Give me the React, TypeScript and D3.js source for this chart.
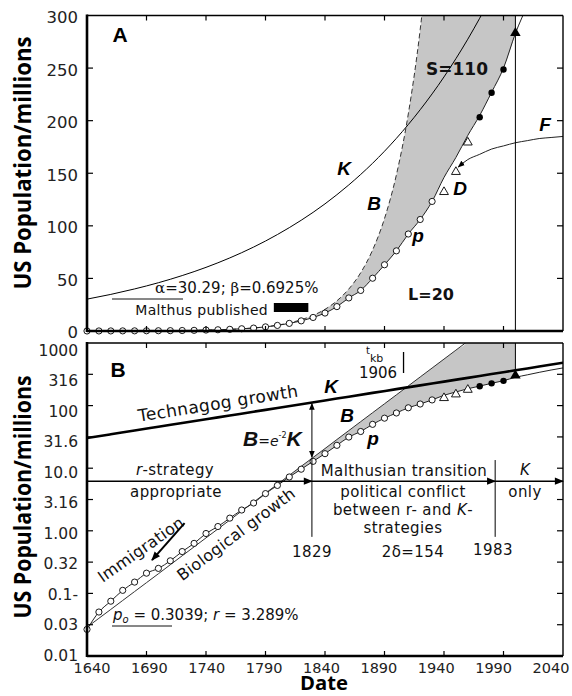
import React from "react";
import * as d3 from "d3";

// census points (millions)
const censusYears = [1640, 1650, 1660, 1670, 1680, 1690, 1700, 1710, 1720, 1730, 1740, 1750, 1760, 1770, 1780, 1790, 1800, 1810, 1820, 1830, 1840, 1850, 1860, 1870, 1880, 1890, 1900, 1910, 1920, 1930];
const censusPop = [0.0266, 0.0504, 0.0751, 0.1119, 0.1515, 0.2104, 0.2509, 0.3317, 0.4662, 0.6294, 0.9056, 1.1708, 1.5936, 2.1481, 2.7804, 3.929, 5.308, 7.24, 9.638, 12.866, 17.069, 23.192, 31.443, 38.558, 50.189, 62.98, 76.212, 92.228, 106.022, 123.203];
const depressionYears = [1940, 1950, 1960];
const depressionPop = [132.2, 151.3, 179.3];
const recentYears = [1970, 1980, 1990];
const recentPop = [203.3, 226.5, 248.7];
const lastYears = [2000];
const lastPop = [281.4];

// fitted p curve
const pYears = [1640, 1650, 1660, 1670, 1680, 1690, 1700, 1710, 1720, 1730, 1740, 1750, 1760, 1770, 1780, 1790, 1800, 1810, 1820, 1830, 1840, 1850, 1860, 1870, 1880, 1890, 1900, 1910, 1920, 1930, 1940, 1950, 1960, 1970, 1980, 1990, 2000, 2010, 2020, 2030, 2040];
const pValues = [0.0266, 0.0504, 0.0751, 0.1119, 0.1515, 0.2104, 0.2509, 0.3317, 0.4662, 0.6294, 0.9056, 1.1708, 1.5936, 2.1481, 2.7804, 3.929, 5.308, 7.24, 9.638, 12.866, 17.069, 23.192, 31.443, 38.558, 50.189, 62.98, 76.212, 92.228, 106.022, 123.203, 146, 165, 186, 205, 227, 250, 283, 310, 340, 370, 400];

// biological growth B
const bYears = [1640, 1650, 1660, 1670, 1680, 1690, 1700, 1710, 1720, 1730, 1740, 1750, 1760, 1770, 1780, 1790, 1800, 1810, 1820, 1830, 1840, 1850, 1860, 1870, 1880, 1890, 1900, 1910, 1920, 1930, 1940, 1950, 1960];
const bValues = [0.0288, 0.04, 0.0555, 0.0771, 0.107, 0.1485, 0.206, 0.287, 0.399, 0.554, 0.77, 1.071, 1.485, 2.07, 2.87, 3.99, 5.54, 7.7, 10.71, 14.85, 20.6, 28.7, 39.9, 55.4, 77.0, 106.9, 148.5, 206.4, 286.7, 398.3, 553.5, 769, 1068];

// technagog growth K
const kYears = [1640, 1660, 1680, 1700, 1720, 1740, 1760, 1780, 1800, 1820, 1840, 1860, 1880, 1900, 1920, 1940, 1960, 1980, 2000, 2020, 2040];
const kValues = [30.3, 34.8, 40.0, 45.9, 52.7, 60.5, 69.5, 79.8, 91.7, 105.3, 120.9, 138.9, 159.5, 183.2, 210.4, 241.6, 277.5, 318.7, 366.0, 420.4, 482.8];

// F curve
const fYears = [1952, 1960, 1970, 1980, 1990, 2000, 2010, 2020, 2030, 2040];
const fValues = [156, 163, 168, 173, 176, 179, 181, 183, 184, 185];

const yearTicks = [1640, 1690, 1740, 1790, 1840, 1890, 1940, 1990, 2040];
const linTicks = [0, 50, 100, 150, 200, 250, 300];
const logTicks = [0.01, 0.0316, 0.1, 0.316, 1, 3.16, 10, 31.6, 100, 316, 1000];
const logTickLabels = ["0.01", "0.03", "0.1-", "0.32", "1.00", "3.16", "10.0", "31.6", "100", "316", "1000"];

const W = 572;
const H = 696;
const FONT = "DejaVu Sans";
const BI = "Liberation Sans";

const x = d3.scaleLinear().domain([1640, 2040]).range([87, 563]);
const xLab = d3.scaleLinear().domain([1640, 2040]).range([92, 551]);
const yLin = d3.scaleLinear().domain([0, 300]).range([331, 15.5]);
const yLog = d3.scaleLog().domain([0.01, 1000]).range([656, 343]);
const yLogLab = d3.scaleLog().domain([0.01, 1000]).range([655, 350]);

const zip = (a: number[], b: number[]) => a.map((v, i) => [v, b[i]] as [number, number]);
const pAt = (yr: number) => pValues[pYears.indexOf(yr)];
const bAt = (yr: number) => {
  const i = bYears.indexOf(yr);
  return i >= 0 ? bValues[i] : 1e7;
};
const shadeYears = pYears.filter((yr) => yr >= 1790 && yr <= 2000);

function Panel({ y, log }: { y: any; log: boolean }) {
  const top = y.range()[1];
  const bottom = y.range()[0];
  const id = log ? "clipB" : "clipA";
  const line = (curve: any) =>
    d3
      .line<[number, number]>()
      .x((d) => x(d[0]))
      .y((d) => y(d[1]))
      .curve(curve);
  const area = d3
    .area<number>()
    .x((yr) => x(yr))
    .y0((yr) => y(pAt(yr)))
    .y1((yr) => y(bAt(yr)))
    .curve(d3.curveMonotoneX);
  const tri = d3.symbol().type(d3.symbolTriangle).size(34)();
  const innerTicks = log ? logTicks.slice(1, -1) : linTicks.slice(1, -1);
  return (
    <g>
      <defs>
        <clipPath id={id}>
          <rect x={87} y={top} width={476} height={bottom - top} />
        </clipPath>
      </defs>
      <g clipPath={`url(#${id})`}>
        <path d={area(shadeYears) || ""} fill="#c6c6c6" />
        <path
          d={line(log ? d3.curveLinear : d3.curveMonotoneX)(zip(bYears, bValues)) || ""}
          fill="none"
          stroke="#333"
          strokeWidth={1}
          strokeDasharray={log ? undefined : "5,3"}
        />
        <path
          d={line(d3.curveMonotoneX)(zip(kYears, kValues)) || ""}
          fill="none"
          stroke="#000"
          strokeWidth={log ? 2.6 : 1}
        />
        <path d={line(d3.curveMonotoneX)(zip(pYears, pValues)) || ""} fill="none" stroke="#222" strokeWidth={1} />
        {!log && (
          <path
            d={line(d3.curveMonotoneX)(zip(fYears, fValues)) || ""}
            fill="none"
            stroke="#222"
            strokeWidth={1}
            markerStart="url(#arrowHead)"
          />
        )}
      </g>
      {/* vertical line at 2000 */}
      <line x1={x(2000)} x2={x(2000)} y1={top} y2={log ? y(lastPop[0]) : bottom} stroke="#000" strokeWidth={1} />
      {zip(censusYears, censusPop).map(([yr, v]) => (
        <circle key={yr} cx={x(yr)} cy={y(v)} r={3.1} fill="#fff" stroke="#000" strokeWidth={0.9} />
      ))}
      {zip(depressionYears, depressionPop).map(([yr, v]) => (
        <path key={yr} d={tri || ""} transform={`translate(${x(yr)},${y(v)})`} fill="#fff" stroke="#000" strokeWidth={0.9} />
      ))}
      {zip(recentYears, recentPop).map(([yr, v]) => (
        <circle key={yr} cx={x(yr)} cy={y(v)} r={3.2} fill="#000" />
      ))}
      {zip(lastYears, lastPop).map(([yr, v]) => (
        <path key={yr} d={d3.symbol().type(d3.symbolTriangle).size(48)() || ""} transform={`translate(${x(yr)},${y(v) - 2})`} fill="#000" />
      ))}
      {/* ticks */}
      {yearTicks.slice(1, -1).map((yr) => (
        <g key={yr} stroke="#000" strokeWidth={1.2}>
          <line x1={x(yr)} x2={x(yr)} y1={top} y2={top + 5} />
          <line x1={x(yr)} x2={x(yr)} y1={bottom} y2={bottom - 5} />
        </g>
      ))}
      {innerTicks.map((v) => (
        <g key={v} stroke="#000" strokeWidth={1.2}>
          <line x1={87} x2={93} y1={y(v)} y2={y(v)} />
          <line x1={563} x2={557} y1={y(v)} y2={y(v)} />
        </g>
      ))}
      {/* frame */}
      <line x1={87} x2={563} y1={top} y2={top} stroke="#000" strokeWidth={1.4} />
      <line x1={563} x2={563} y1={top} y2={bottom} stroke="#000" strokeWidth={1.4} />
      <line x1={87} x2={563} y1={bottom} y2={bottom} stroke="#000" strokeWidth={2.4} />
      <line x1={87} x2={87} y1={top - 1} y2={bottom + 1} stroke="#000" strokeWidth={2.6} />
      {/* tick labels */}
      {log
        ? logTicks.map((v, i) => (
            <text key={v} x={78} y={yLogLab(v)} dy="0.36em" textAnchor="end" fontSize={15.5} fill="#222">
              {logTickLabels[i]}
            </text>
          ))
        : linTicks.map((v) => (
            <text key={v} x={78} y={yLin(v) + 1.5} dy="0.36em" textAnchor="end" fontSize={16.5} fill="#222">
              {v}
            </text>
          ))}
    </g>
  );
}

export default function App() {
  const kAngle =
    (Math.atan2(yLog(kValues[kValues.length - 1]) - yLog(kValues[0]), x(2040) - x(1640)) * 180) / Math.PI;
  const bAngle =
    (Math.atan2(yLog(bValues[bValues.length - 1]) - yLog(bValues[0]), x(1960) - x(1640)) * 180) / Math.PI;
  const divY = yLog(6.2);
  return (
    <svg width={W} height={H} style={{ position: "absolute", left: 0, top: 0, background: "#fff" }} fontFamily={FONT}>
      <defs>
        <marker id="arrowHead" viewBox="0 0 10 10" refX="9" refY="5" markerWidth="7" markerHeight="7" orient="auto-start-reverse" markerUnits="userSpaceOnUse">
          <path d="M0,1 L10,5 L0,9 z" fill="#000" />
        </marker>
        <marker id="arrowBig" viewBox="0 0 10 10" refX="9" refY="5" markerWidth="11" markerHeight="9" orient="auto-start-reverse" markerUnits="userSpaceOnUse">
          <path d="M0,1 L10,5 L0,9 z" fill="#000" />
        </marker>
      </defs>
      <rect width={W} height={H} fill="#fff" />

      {/* ---------- panel A ---------- */}
      <Panel y={yLin} log={false} />
      <text x={120} y={42} textAnchor="middle" fontFamily={BI} fontWeight="bold" fontSize={21}>A</text>
      <g fontFamily={BI} fontWeight="bold" fontStyle="italic" fontSize={19}>
        <text x={344} y={175} textAnchor="middle">K</text>
        <text x={374} y={210} textAnchor="middle">B</text>
        <text x={418} y={242} textAnchor="middle">p</text>
        <text x={460} y={195} textAnchor="middle">D</text>
        <text x={545} y={131} textAnchor="middle">F</text>
      </g>
      <text x={457} y={75} textAnchor="middle" fontWeight="bold" fontSize={17} fill="#111">S=110</text>
      <text x={431} y={300} textAnchor="middle" fontWeight="bold" fontSize={16} fill="#111">L=20</text>
      <text x={155} y={293} fontSize={15} fill="#111">
        <tspan fontFamily="DejaVu Serif">α</tspan>=30.29; <tspan fontFamily="DejaVu Serif">β</tspan>=0.6925%
      </text>
      <line x1={112} x2={183} y1={299} y2={299} stroke="#111" strokeWidth={1} />
      <text x={268} y={315} textAnchor="end" fontSize={14} letterSpacing={0.3} fill="#111">Malthus published</text>
      <rect x={x(1797)} y={303} width={x(1826) - x(1797)} height={9} fill="#000" />
      <text transform="translate(31,163) rotate(-90)" textAnchor="middle" fontFamily="Open Sans" fontWeight="bold" fontSize={23} textLength={253} lengthAdjust="spacingAndGlyphs">
        US Population/millions
      </text>

      {/* ---------- panel B ---------- */}
      <Panel y={yLog} log={true} />
      <text x={118} y={377} textAnchor="middle" fontFamily={BI} fontWeight="bold" fontSize={21}>B</text>
      <text transform="translate(31,497) rotate(-90)" textAnchor="middle" fontFamily="Open Sans" fontWeight="bold" fontSize={23} textLength={243} lengthAdjust="spacingAndGlyphs">
        US Population/millions
      </text>
      {/* technagog label */}
      <text transform={`translate(${x(1752)},${yLog(65.6)}) rotate(${kAngle}) translate(0,-8)`} textAnchor="middle" fontSize={17} letterSpacing={0.4} fill="#111">
        Technagog growth
      </text>
      <text transform={`translate(${x(1758)},${yLog(1.35)}) rotate(${bAngle}) translate(0,20)`} textAnchor="middle" fontSize={16} letterSpacing={0.3} fill="#111">
        Biological growth
      </text>
      <text transform="translate(144,554) rotate(-35)" textAnchor="middle" fontSize={16} letterSpacing={0.3} fill="#111">
        Immigration
      </text>
      <line x1={x(1722)} y1={yLog(1.33)} x2={x(1694.6)} y2={yLog(0.341)} stroke="#000" strokeWidth={2} markerEnd="url(#arrowBig)" />
      <g fontFamily={BI} fontWeight="bold" fontStyle="italic" fontSize={19}>
        <text x={331} y={393} textAnchor="middle">K</text>
        <text x={347} y={422} textAnchor="middle">B</text>
        <text x={373} y={445} textAnchor="middle">p</text>
      </g>
      <text x={243} y={446} fill="#111">
        <tspan fontFamily={BI} fontWeight="bold" fontStyle="italic" fontSize={21}>B</tspan>
        <tspan fontStyle="italic" fontSize={14}>=e</tspan>
        <tspan fontSize={8} dy={-8}>-2</tspan>
        <tspan fontFamily={BI} fontWeight="bold" fontStyle="italic" fontSize={21} dy={8}>K</tspan>
      </text>
      {/* B = e^-2 K arrow at 1829 */}
      <line x1={x(1829)} x2={x(1829)} y1={yLog(112) + 1} y2={yLog(14.4) - 1} stroke="#000" strokeWidth={1} markerStart="url(#arrowHead)" markerEnd="url(#arrowHead)" />
      {/* t_kb */}
      <text x={366} y={354} fontSize={10} fill="#111">t</text>
      <text x={370} y={362} fontSize={11} fill="#111">kb</text>
      <text x={378} y={378} textAnchor="middle" fontSize={15} fill="#111">1906</text>
      <line x1={x(1906)} x2={x(1906)} y1={352} y2={373} stroke="#000" strokeWidth={1.3} />
      {/* divider with arrows */}
      <line x1={x(1640)} x2={x(1829)} y1={divY} y2={divY} stroke="#000" strokeWidth={1.4} markerEnd="url(#arrowBig)" />
      <line x1={x(1829)} x2={x(1983)} y1={divY} y2={divY} stroke="#000" strokeWidth={1.4} markerEnd="url(#arrowBig)" />
      <line x1={x(1983)} x2={x(2040)} y1={divY} y2={divY} stroke="#000" strokeWidth={1.4} markerEnd="url(#arrowBig)" />
      <line x1={x(1829)} x2={x(1829)} y1={yLog(14.4)} y2={yLog(0.8)} stroke="#000" strokeWidth={1} />
      <line x1={x(1983)} x2={x(1983)} y1={yLog(13.5)} y2={yLog(0.8)} stroke="#000" strokeWidth={1} />
      <g fontSize={15} letterSpacing={0.4} fill="#111" textAnchor="middle">
        <text x={175} y={475}><tspan fontStyle="italic">r</tspan>-strategy</text>
        <text x={176} y={497}>appropriate</text>
        <text x={404} y={476}>Malthusian transition</text>
        <text x={403} y={497}>political conflict</text>
        <text x={403} y={515}>between r- and <tspan fontStyle="italic">K</tspan>-</text>
        <text x={403} y={533}>strategies</text>
        <text x={525} y={475} fontStyle="italic">K</text>
        <text x={525} y={497}>only</text>
        <text x={312} y={557}>1829</text>
        <text x={413} y={557}>2δ=154</text>
        <text x={493} y={555}>1983</text>
      </g>
      <text x={113} y={620} fontSize={15} fill="#111">
        <tspan fontStyle="italic">p</tspan>
        <tspan fontStyle="italic" fontSize={10} dy={3}>o</tspan>
        <tspan dy={-3}> = 0.3039; </tspan>
        <tspan fontStyle="italic">r</tspan> = 3.289%
      </text>
      <line x1={112} x2={172} y1={626} y2={626} stroke="#111" strokeWidth={1} />

      {/* x axis */}
      {yearTicks.map((yr) => (
        <text key={yr} x={xLab(yr)} y={673} textAnchor="middle" fontSize={14.5} fill="#222">
          {yr}
        </text>
      ))}
      <text x={324} y={690} textAnchor="middle" fontFamily="Open Sans" fontWeight="bold" fontSize={19} textLength={48} lengthAdjust="spacingAndGlyphs">
        Date
      </text>
    </svg>
  );
}
